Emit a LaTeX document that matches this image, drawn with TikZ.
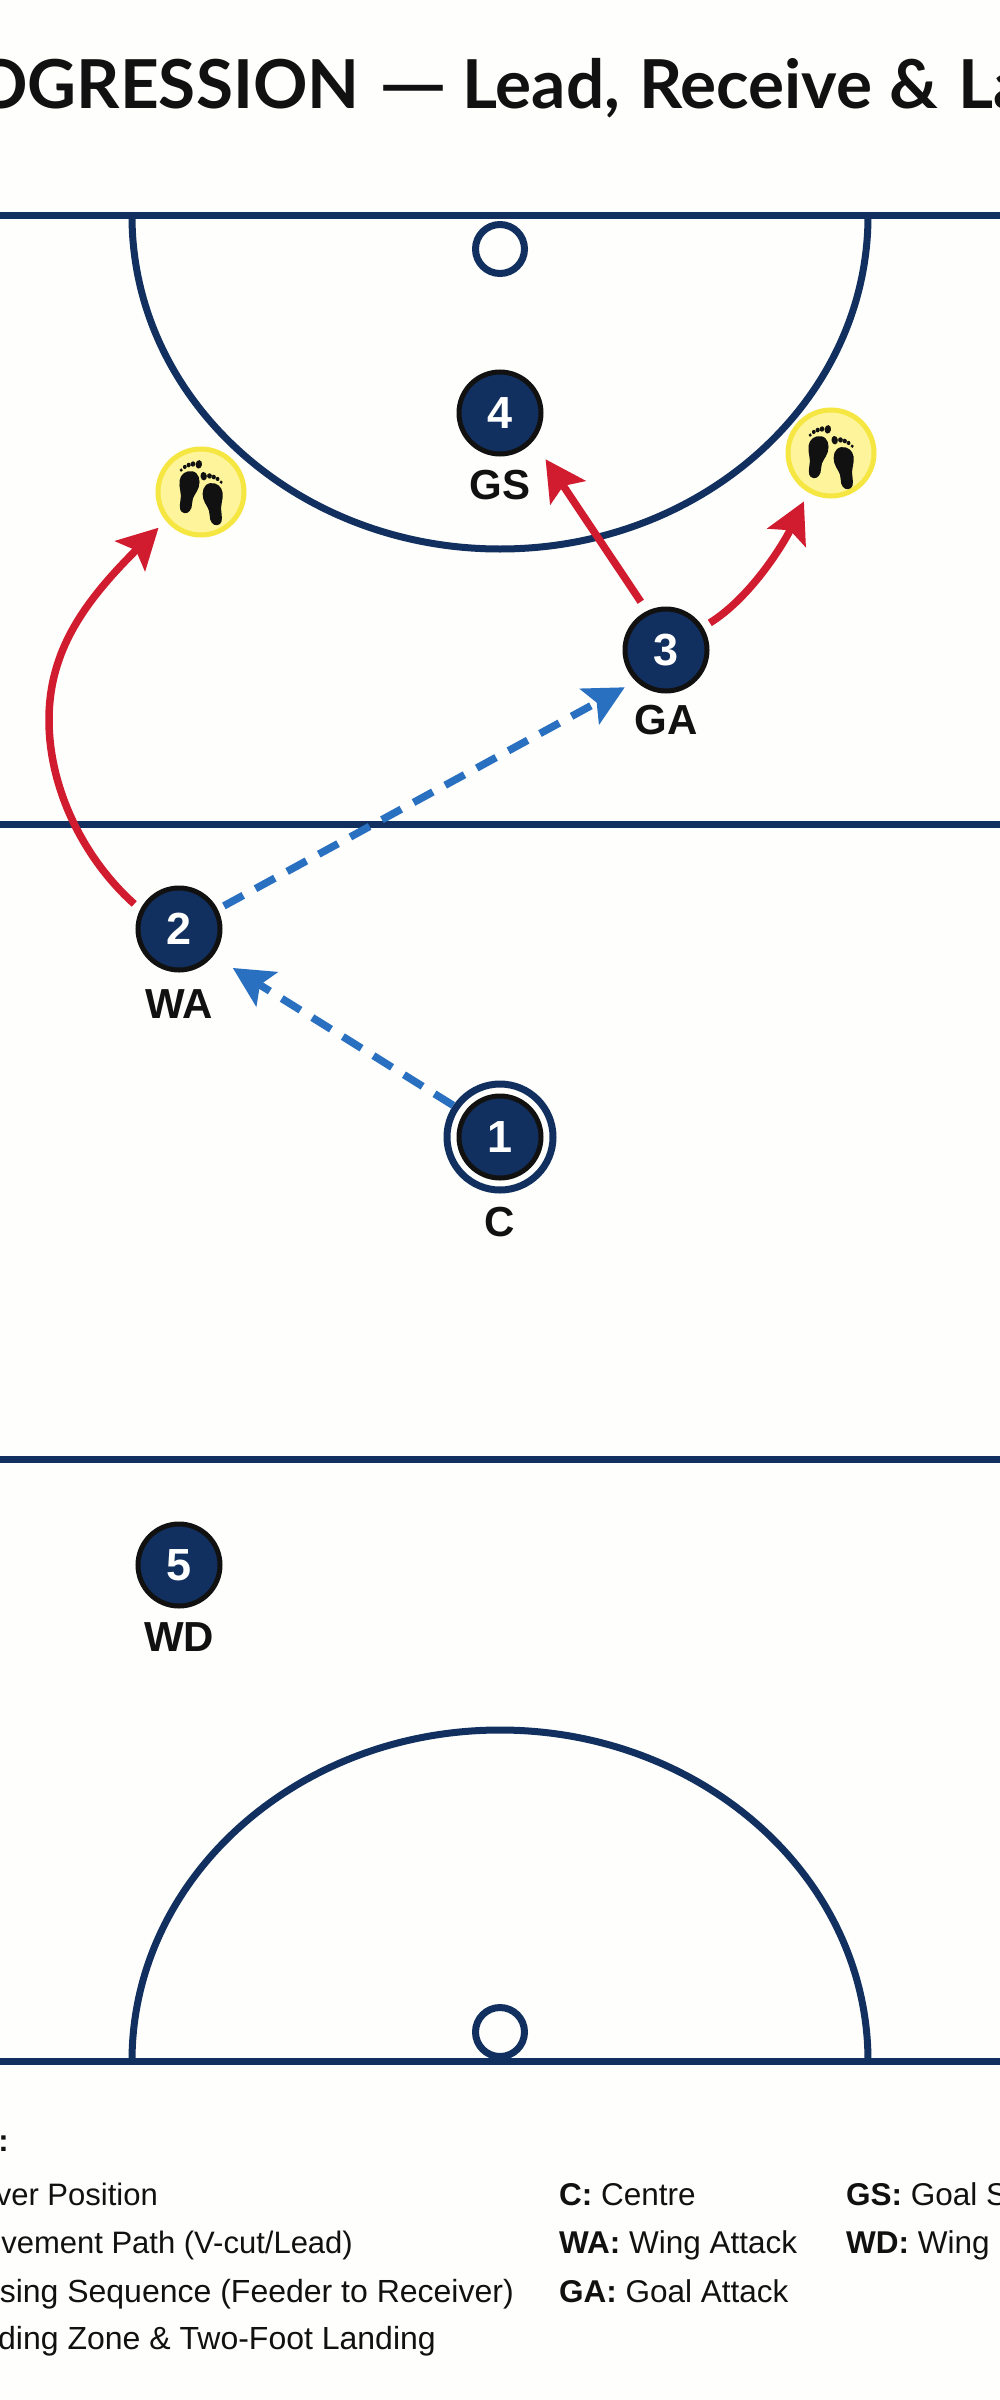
\documentclass[tikz,border=0pt]{standalone}
\usepackage{fontspec}
\setmainfont{Liberation Sans}
\newfontfamily\titlefont{Lato}
\usetikzlibrary{arrows.meta}
\definecolor{navy}{HTML}{12305F}
\definecolor{ink}{HTML}{111111}
\definecolor{redpath}{HTML}{D01C2E}
\definecolor{bluepass}{HTML}{2A70C0}
\definecolor{zonefill}{HTML}{FDF49B}
\definecolor{zoneline}{HTML}{F5E642}
\definecolor{paper}{HTML}{FEFEFC}
\tikzset{
  court/.style={draw=navy,line width=7pt},
  ringmark/.style={circle,draw=navy,line width=7pt,fill=paper,minimum size=49pt,inner sep=0pt},
  player/.style={circle,draw=ink,line width=5pt,fill=navy,text=white,minimum size=82pt,inner sep=0pt,
    font=\fontsize{45}{45}\selectfont\bfseries},
  centrering/.style={circle,draw=navy,line width=7pt,fill=paper,minimum size=106pt,inner sep=0pt},
  role/.style={text=ink,inner sep=0pt,font=\fontsize{42}{42}\selectfont\bfseries},
  zone/.style={circle,draw=zoneline,line width=5pt,fill=zonefill,minimum size=86pt,inner sep=0pt},
  move/.style={draw=redpath,line width=7.5pt,-{Stealth[length=40pt,width=42pt,inset=8pt]}},
  pass/.style={draw=bluepass,line width=7.5pt,dash pattern=on 22pt off 14pt,-{Stealth[length=40pt,width=40pt,inset=8pt]}},
  legend/.style={text=ink,inner sep=0pt,font=\fontsize{31}{31}\selectfont},
  legendwide/.style={text=ink,inner sep=0pt,font=\fontsize{32}{32}\selectfont},
  keytext/.style={text=ink,inner sep=0pt,font=\fontsize{31.5}{31.5}\selectfont},
  titletext/.style={text=ink,inner sep=0pt,font=\fontsize{67.5}{67.5}\selectfont\titlefont\bfseries},
  sole/.pic={
    \begin{scope}[yscale=1.12]
    \fill[ink] (1,-18) .. controls (8,-18) and (11,-11) .. (10,-5) .. controls (9,1) and (5,4) .. (6,10)
      .. controls (7,16) and (4,20) .. (0,20) .. controls (-5,20) and (-6,16) .. (-6,10)
      .. controls (-5,4) and (-10,-2) .. (-10,-8) .. controls (-10,-14) and (-5,-18) .. (1,-18) -- cycle;
    \fill[ink] (6.5,-25) ellipse[x radius=3.2pt,y radius=3.8pt];
    \fill[ink] (0.7,-24.5) circle[radius=2.4pt];
    \fill[ink] (-3.4,-23) circle[radius=2.1pt];
    \fill[ink] (-6.9,-20.8) circle[radius=1.9pt];
    \fill[ink] (-10,-17.5) circle[radius=1.6pt];
    \end{scope}
  }
}
\begin{document}
\begin{tikzpicture}[x=1pt,y=-1pt]
\useasboundingbox (0,0) rectangle (1000,2400);
\clip (0,0) rectangle (1000,2400);
\fill[paper] (0,0) rectangle (1000,2400);

% title
\node[titletext,anchor=base west] (title) at (-27,109)
  {OGRESSION\hspace{3pt} \scalebox{1.3}[1]{—}\hspace{-3pt} Lead,\hspace{3pt} Receive\hspace{1pt} \&\hspace{3pt} La};

% court
\draw[court] (0,216) -- (1000,216);
\draw[court] (0,824) -- (1000,824);
\draw[court] (0,1459) -- (1000,1459);
\draw[court] (0,2061) -- (1000,2061);
\draw[court] (132,216) .. controls (132,400) and (297,549) .. (500,549) .. controls (703,549) and (868,400) .. (868,216);
\draw[court] (132,2061) .. controls (132,1878) and (297,1730) .. (500,1730) .. controls (703,1730) and (868,1878) .. (868,2061);
\node[ringmark] (goaltop) at (500,249) {};
\node[ringmark] (goalbottom) at (500,2032) {};

% landing zones
\node[zone] (zoneleft) at (201,492) {};
\node[zone] (zoneright) at (831,453) {};
\pic[rotate=-9] at (188,491) {sole};
\pic[rotate=8,xscale=-1] at (214,503) {sole};
\pic[rotate=-9] at (817,456) {sole};
\pic[rotate=8,xscale=-1] at (845,467) {sole};

% players
\node[centrering] (ring) at (500,1137) {};
\node[player] (p1) at (500,1137) {1};
\node[player] (p2) at (179,929) {2};
\node[player] (p3) at (666,650) {3};
\node[player] (p4) at (500,413) {4};
\node[player] (p5) at (179,1565) {5};
\node[role] (lc) at (500,1222) {C};
\node[role] (lwa) at (179,1004) {WA};
\node[role] (lga) at (666,720) {GA};
\node[role] (lgs) at (500,485) {GS};
\node[role] (lwd) at (179,1637) {WD};

% connectors
\draw[pass,shorten >=23pt] (ring.146) -- (p2.-38);
\draw[pass,shorten <=7pt,shorten >=12.5pt] (p2.27) -- (p3.-134);
\draw[move,shorten <=11pt,shorten >=22pt] (p3.116) -- (p4.-40);
\draw[move,shorten <=8pt,shorten >=10pt] (p2.153) .. controls (85,860) and (49,790) .. (49,720) .. controls (49,650) and (85,601) .. (zoneleft.219);
\draw[move,shorten <=8pt,shorten >=10pt] (p3) .. controls (750,598) and (783,545) .. (zoneright.240);

% legend
\node[legend,anchor=base east,font=\fontsize{31}{31}\selectfont\bfseries] (lhead) at (9,2151) {:};
\node[legend,anchor=base east] (l1) at (158,2205) {ver Position};
\node[legend,anchor=base east] (l2) at (353,2253) {vement Path (V-cut/Lead)};
\node[legendwide,anchor=base east] (l3) at (514,2302) {sing Sequence (Feeder to Receiver)};
\node[legendwide,anchor=base east] (l4) at (436,2349) {ding Zone \& Two-Foot Landing};
\node[keytext,anchor=base west] (k1) at (559,2205) {\textbf{C:} Centre};
\node[keytext,anchor=base west] (k2) at (559,2253) {\textbf{WA:} Wing Attack};
\node[keytext,anchor=base west] (k3) at (559,2302) {\textbf{GA:} Goal Attack};
\node[keytext,anchor=base west] (k4) at (846,2205) {\textbf{GS:} Goal S};
\node[keytext,anchor=base west] (k5) at (846,2253) {\textbf{WD:} Wing};
\end{tikzpicture}
\end{document}
